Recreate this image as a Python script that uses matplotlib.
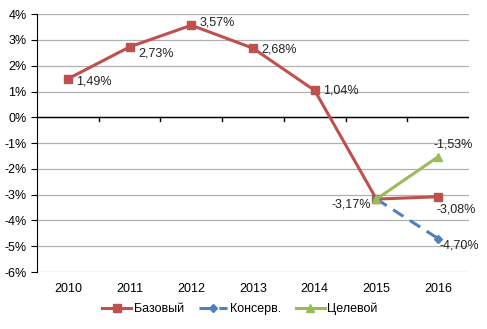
import matplotlib.pyplot as plt
import numpy as np

years = ["2010", "2011", "2012", "2013", "2014", "2015", "2016"]
base = [1.49, 2.73, 3.57, 2.68, 1.04, -3.17, -3.08]
conserv = [None, None, None, None, None, -3.17, -4.70]
target = [None, None, None, None, None, -3.17, -1.53]

plt.rcParams['font.family'] = ['Liberation Sans', 'DejaVu Sans']
fig = plt.figure(figsize=(4.87, 3.29), dpi=100)
ax = fig.add_axes([0.076, 0.173, 0.887, 0.784])

x = np.arange(len(years))
c_arr = np.array([np.nan if v is None else v for v in conserv])
t_arr = np.array([np.nan if v is None else v for v in target])

ax.plot(x, base, color="#C0504D", lw=2.2, marker="s", ms=6, label="Базовый", zorder=3)
ax.plot(x, c_arr, color="#4F81BD", lw=2.2, ls=(0, (4, 2.5)), marker="D", ms=4, label="Консерв.", zorder=4)
ax.plot(x, t_arr, color="#9BBB59", lw=2.2, marker="^", ms=6, label="Целевой", zorder=5)

def fmt(v):
    return f"{v:.2f}%".replace(".", ",")

fs = 9
offsets = [(6, -2), (6, -5), (6, 2), (6, -1), (6, 0), (-4, -4), (-1, -9)]
aligns = ["left"] * 5 + ["right", "left"]
for i, v in enumerate(base):
    ax.annotate(fmt(v), (x[i], v), xytext=offsets[i], textcoords="offset points",
                fontsize=fs, va="center", ha=aligns[i], color="#222222")
ax.annotate(fmt(conserv[6]), (x[6], conserv[6]), xytext=(1, -5), textcoords="offset points",
            fontsize=fs, va="center", ha="left", color="#222222")
ax.annotate(fmt(target[6]), (x[6], target[6]), xytext=(-3, 9), textcoords="offset points",
            fontsize=fs, va="center", ha="left", color="#222222")

ax.set_xlim(-0.5, 6.5)
ax.set_ylim(-6, 4)
ax.set_yticks(range(-6, 5))
ax.set_yticklabels([f"{v}%" for v in range(-6, 5)], fontsize=fs)
ax.yaxis.grid(True, color="#B0B0B0", lw=0.9)
ax.set_axisbelow(True)
ax.axhline(0, color="black", lw=1, zorder=2)
for b in np.arange(0.5, 6.5, 1):
    ax.plot([b, b], [0, -0.15], color="black", lw=1, zorder=2)

ax.set_xticks(x)
ax.set_xticklabels(years, fontsize=fs)
ax.tick_params(axis="x", length=0, pad=8)
ax.tick_params(axis="y", length=4, color="black")
for s in ["top", "right", "bottom"]:
    ax.spines[s].set_visible(False)
ax.spines["left"].set_color("black")

ax.legend(loc="upper center", bbox_to_anchor=(0.47, -0.075), ncol=3, frameon=False,
          fontsize=fs, handlelength=2.3, columnspacing=1.2, handletextpad=0.2)

fig.savefig("out.png", dpi=100)
